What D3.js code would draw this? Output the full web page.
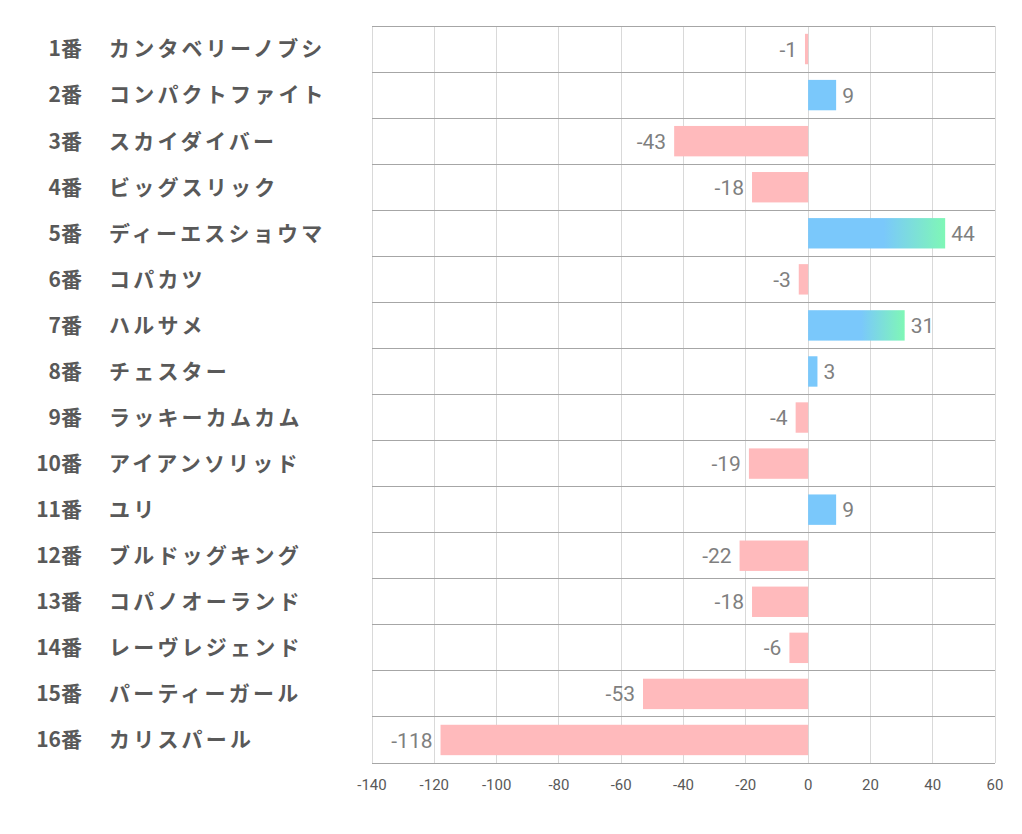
<!DOCTYPE html>
<html><head><meta charset="utf-8">
<script src="https://cdn.jsdelivr.net/npm/d3@7"></script>
<style>body{margin:0;background:#fff}</style>
</head><body>
<svg id="chart" width="1022" height="834"></svg>
<script>
const numbers = ["1番","2番","3番","4番","5番","6番","7番","8番","9番","10番","11番","12番","13番","14番","15番","16番"];
const names = ["カンタベリーノブシ","コンパクトファイト","スカイダイバー","ビッグスリック","ディーエスショウマ","コパカツ","ハルサメ","チェスター","ラッキーカムカム","アイアンソリッド","ユリ","ブルドッグキング","コパノオーランド","レーヴレジェンド","パーティーガール","カリスパール"];
const values = [-1,9,-43,-18,44,-3,31,3,-4,-19,9,-22,-18,-6,-53,-118];
const gradientRows = [4,6];
const xTicks = [-140,-120,-100,-80,-60,-40,-20,0,20,40,60];

const svg = d3.select("#chart");
const L = 372, R = 995, T = 26, B = 763;
const x = d3.scaleLinear().domain([-140,60]).range([L,R]);
const y = d3.scaleBand().domain(d3.range(values.length)).range([T,B]).paddingInner(0.34).paddingOuter(0.17);
const rows = d3.scaleBand().domain(d3.range(values.length)).range([T,B]);

const defs = svg.append("defs");
const grad = defs.append("linearGradient").attr("id","bg").attr("x1","0").attr("x2","1").attr("y1","0").attr("y2","0");
grad.append("stop").attr("offset","0.55").attr("stop-color","#7ac8fb");
grad.append("stop").attr("offset","1").attr("stop-color","#7ff7b6");

// vertical grid
svg.append("g").selectAll("line").data(xTicks).join("line")
  .attr("x1",d=>x(d)).attr("x2",d=>x(d)).attr("y1",T).attr("y2",B)
  .attr("stroke","#d9d9d9").attr("stroke-width",1).attr("shape-rendering","crispEdges");
// horizontal lines
const hs = d3.range(values.length+1).map(i=>T + i*rows.step());
svg.append("g").selectAll("line").data(hs).join("line")
  .attr("x1",L).attr("x2",R).attr("y1",d=>d).attr("y2",d=>d)
  .attr("stroke","#a6a6a6").attr("stroke-width",1).attr("shape-rendering","crispEdges");

// bars
svg.append("g").selectAll("rect").data(values).join("rect")
  .attr("x",d=>x(Math.min(0,d))).attr("width",d=>Math.abs(x(d)-x(0)))
  .attr("y",(d,i)=>y(i)).attr("height",y.bandwidth())
  .attr("fill",(d,i)=> d<0 ? "#ffbabc" : (gradientRows.includes(i) ? "url(#bg)" : "#7ac8fb"));

// value labels
svg.append("g").selectAll("text").data(values).join("text")
  .attr("x",d=> d<0 ? x(d)-8 : x(d)+6)
  .attr("y",(d,i)=>y(i)+y.bandwidth()/2)
  .attr("dy","0.36em")
  .attr("text-anchor",d=> d<0 ? "end" : "start")
  .attr("font-family","Roboto, sans-serif")
  .attr("font-size",21).attr("fill","#7f7f7f")
  .text(d=>d);

// x axis labels
svg.append("g").selectAll("text").data(xTicks).join("text")
  .attr("x",d=>x(d)).attr("y",790)
  .attr("text-anchor","middle")
  .attr("font-family","Roboto, sans-serif")
  .attr("font-size",15).attr("fill","#595959")
  .text(d=>d);

// category labels
const cat = svg.append("g");
cat.selectAll("text.num").data(numbers).join("text").attr("class","num")
  .attr("x",82).attr("y",(d,i)=>rows(i)+rows.bandwidth()/2).attr("dy","0.35em")
  .attr("text-anchor","end")
  .attr("font-family","'Noto Sans CJK JP', sans-serif").attr("font-weight","bold")
  .attr("font-size",21).attr("fill","#595959").text(d=>d);
cat.selectAll("text.nm").data(names).join("text").attr("class","nm")
  .attr("x",109).attr("y",(d,i)=>rows(i)+rows.bandwidth()/2).attr("dy","0.35em")
  .attr("font-family","'Noto Sans CJK JP', sans-serif").attr("font-weight","bold")
  .attr("letter-spacing","3.2px")
  .attr("font-size",21).attr("fill","#595959").text(d=>d);
</script>
</body></html>
